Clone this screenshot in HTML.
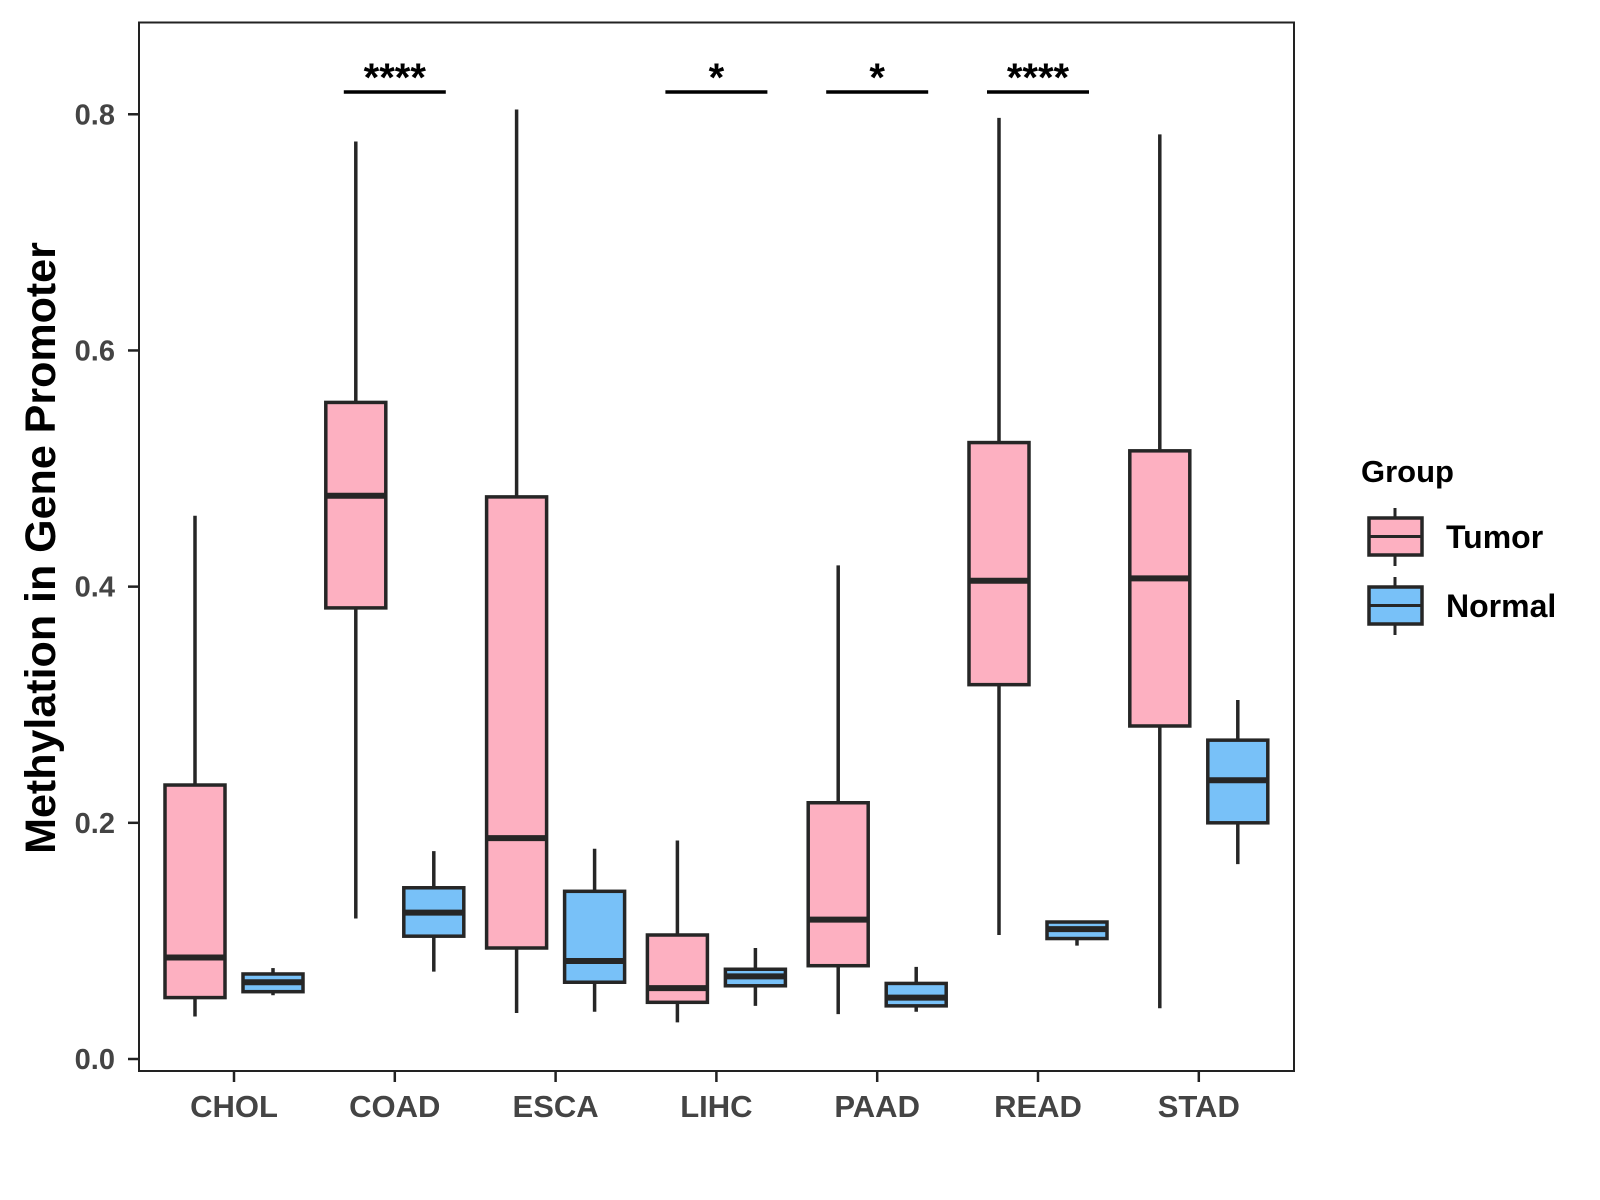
<!DOCTYPE html>
<html><head><meta charset="utf-8"><style>
html,body{margin:0;padding:0;background:#fff;}
svg{display:block;font-family:"Liberation Sans",Arial,sans-serif;font-weight:bold;}
</style></head><body>
<svg id="chart" width="1600" height="1200" viewBox="0 0 1600 1200">
<rect x="0" y="0" width="1600" height="1200" fill="#fff"/>
<g id="marks"></g>
<rect x="139" y="22.5" width="1155" height="1048.5" fill="none" stroke="#222" stroke-width="2"/>
<g id="axes"></g>
<text transform="translate(55,548) rotate(-90)" text-anchor="middle" font-size="43" fill="#000">Methylation in Gene Promoter</text>
<g>
<text x="1361" y="482" font-size="31" fill="#000">Group</text>
<g>
<line x1="1395" y1="508" x2="1395" y2="566" stroke="#262626" stroke-width="3"/>
<rect x="1369" y="518" width="53" height="37" fill="#FDB0C1" stroke="#262626" stroke-width="3.5"/>
<line x1="1369" y1="536.5" x2="1422" y2="536.5" stroke="#262626" stroke-width="3"/>
<text x="1446" y="548" font-size="32" fill="#000">Tumor</text>
</g>
<g>
<line x1="1395" y1="577" x2="1395" y2="635" stroke="#262626" stroke-width="3"/>
<rect x="1369" y="587" width="53" height="37" fill="#78C1F8" stroke="#262626" stroke-width="3.5"/>
<line x1="1369" y1="605.5" x2="1422" y2="605.5" stroke="#262626" stroke-width="3"/>
<text x="1446" y="617" font-size="32" fill="#000">Normal</text>
</g>
</g>
</svg>
<script>
const categories = ["CHOL","COAD","ESCA","LIHC","PAAD","READ","STAD"];
// [lowWhisker, Q1, median, Q3, highWhisker]
const tumorStats = [
 [0.036,0.052,0.086,0.232,0.460],
 [0.119,0.382,0.477,0.556,0.777],
 [0.039,0.094,0.187,0.476,0.804],
 [0.031,0.048,0.060,0.105,0.185],
 [0.038,0.079,0.118,0.217,0.418],
 [0.105,0.317,0.405,0.522,0.797],
 [0.043,0.282,0.407,0.515,0.783]
];
const normalStats = [
 [0.054,0.057,0.065,0.072,0.077],
 [0.074,0.104,0.124,0.145,0.176],
 [0.040,0.065,0.083,0.142,0.178],
 [0.045,0.062,0.070,0.076,0.094],
 [0.040,0.045,0.052,0.064,0.078],
 [0.096,0.102,0.110,0.116,0.117],
 [0.165,0.200,0.236,0.270,0.304]
];
const yTicks = [0.0,0.2,0.4,0.6,0.8];
const yTickLabels = ["0.0","0.2","0.4","0.6","0.8"];
const sigCategories = ["COAD","LIHC","PAAD","READ"];
const sigLabels = ["****","*","*","****"];

const NS="http://www.w3.org/2000/svg";
function y(v){return 1059-v*1180.9;}
function x(cat){return 234+categories.indexOf(cat)*160.8;}
const marks=document.getElementById('marks');
const axes=document.getElementById('axes');
function mk(tag,attrs,parent){const e=document.createElementNS(NS,tag);for(const k in attrs)e.setAttribute(k,attrs[k]);parent.appendChild(e);return e;}

function drawBox(cx,s,fill,name){
  const g=mk('g',{},marks);
  
  
  const w=60;
  mk('line',{x1:cx,x2:cx,y1:y(s[0]),y2:y(s[4]),stroke:'#262626','stroke-width':3.5},g);
  mk('rect',{x:cx-w/2,y:y(s[3]),width:w,height:y(s[1])-y(s[3]),fill:fill,stroke:'#262626','stroke-width':3.5},g);
  mk('line',{x1:cx-w/2,x2:cx+w/2,y1:y(s[2]),y2:y(s[2]),stroke:'#262626','stroke-width':6},g);
}
categories.forEach((c,i)=>{
  drawBox(x(c)-39,tumorStats[i],'#FDB0C1','box-tumor-'+c.toLowerCase());
  drawBox(x(c)+39,normalStats[i],'#78C1F8','box-normal-'+c.toLowerCase());
});
sigCategories.forEach((c,i)=>{
  const g=mk('g',{},marks);
  
  
  mk('line',{x1:x(c)-51,x2:x(c)+51,y1:92,y2:92,stroke:'#000','stroke-width':3.5},g);
  const t=mk('text',{x:x(c),y:91,'text-anchor':'middle','font-size':40,fill:'#000'},g);
  t.textContent=sigLabels[i];
});
yTicks.forEach((v,i)=>{
  const l=mk('line',{x1:128,x2:139,y1:y(v),y2:y(v),stroke:'#222','stroke-width':2.5},axes);
  
  
  const t=mk('text',{x:115,y:y(v)+10,'text-anchor':'end','font-size':29,fill:'#444'},axes);
  
  
  t.textContent=yTickLabels[i];
});
categories.forEach(c=>{
  const l=mk('line',{x1:x(c),x2:x(c),y1:1071,y2:1082,stroke:'#222','stroke-width':2.5},axes);
  
  
  const t=mk('text',{x:x(c),y:1117,'text-anchor':'middle','font-size':31,fill:'#444'},axes);
  
  
  t.textContent=c;
});
</script>
</body></html>
